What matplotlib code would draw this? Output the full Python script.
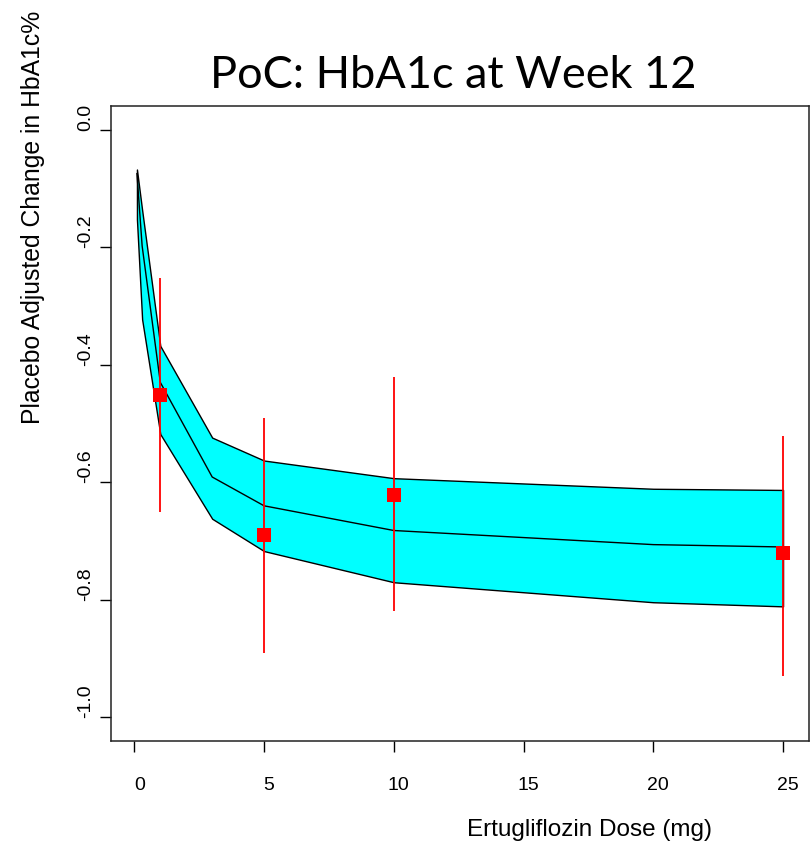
import matplotlib
matplotlib.use("Agg")
import matplotlib.pyplot as plt
import matplotlib.transforms as mtransforms

# Model prediction: dose-response band (upper / median / lower)
dose = [0.1, 0.3, 1, 3, 5, 10, 20, 25]
pred_upper = [-0.068, -0.137, -0.368, -0.524, -0.563, -0.593, -0.611, -0.613]
pred_median = [-0.075, -0.198, -0.430, -0.591, -0.640, -0.682, -0.706, -0.710]
pred_lower = [-0.153, -0.323, -0.518, -0.662, -0.717, -0.770, -0.804, -0.811]

# Observed placebo-adjusted means with intervals
obs_dose = [1, 5, 10, 25]
obs_mean = [-0.451, -0.690, -0.621, -0.720]
obs_lo = [-0.650, -0.891, -0.819, -0.930]
obs_hi = [-0.252, -0.491, -0.421, -0.521]

x_ticks = [0, 5, 10, 15, 20, 25]
y_ticks = [0.0, -0.2, -0.4, -0.6, -0.8, -1.0]

plt.rcParams['font.family'] = ['Liberation Sans', 'DejaVu Sans']

fig = plt.figure(figsize=(8.12, 8.45), dpi=100)
ax = fig.add_axes([111 / 812, 1 - 742 / 845, 698 / 812, 635 / 845])

ax.fill_between(dose, pred_lower, pred_upper, facecolor='#00ffff',
                edgecolor='black', linewidth=1.0, zorder=2)
ax.plot(dose, pred_median, color='black', linewidth=1.0, zorder=3)

ax.vlines(obs_dose, obs_lo, obs_hi, color='red', linewidth=1.3, zorder=4)
ax.plot(obs_dose, obs_mean, 's', color='red', markersize=10,
        markeredgewidth=0, zorder=5)

ax.set_xlim(-0.9, 26.0)
ax.set_ylim(-1.04, 0.04)

ax.set_xticks(x_ticks)
ax.set_xticklabels([str(t) for t in x_ticks], fontsize=14)
ax.set_yticks(y_ticks)
ax.set_yticklabels([f"{t:.1f}" for t in y_ticks], fontsize=14,
                   rotation=90, va='bottom')
ax.tick_params(axis='x', direction='out', length=8, width=1, pad=17)
ax.tick_params(axis='y', direction='out', length=8, width=1, pad=4)

# nudge x tick labels slightly right, as in the original
offset = mtransforms.ScaledTranslation(5 / 100, 0, fig.dpi_scale_trans)
for lab in ax.get_xticklabels():
    lab.set_transform(lab.get_transform() + offset)

for sp in ax.spines.values():
    sp.set_linewidth(1.1)
    sp.set_color('#222222')

fig.text(453 / 812, 1 - 88 / 845, 'PoC: HbA1c at Week 12', fontsize=32.5,
         family=['Lato', 'DejaVu Sans'], ha='center', va='baseline')
fig.text(590 / 812, 1 - 836 / 845, 'Ertugliflozin Dose (mg)', fontsize=17.5,
         ha='center', va='baseline')
fig.text(33 / 812, 1 - 424 / 845, 'Placebo Adjusted Change in HbA1c%',
         fontsize=17.8, rotation=90, ha='center', va='bottom')

fig.savefig('out.png', dpi=100)
